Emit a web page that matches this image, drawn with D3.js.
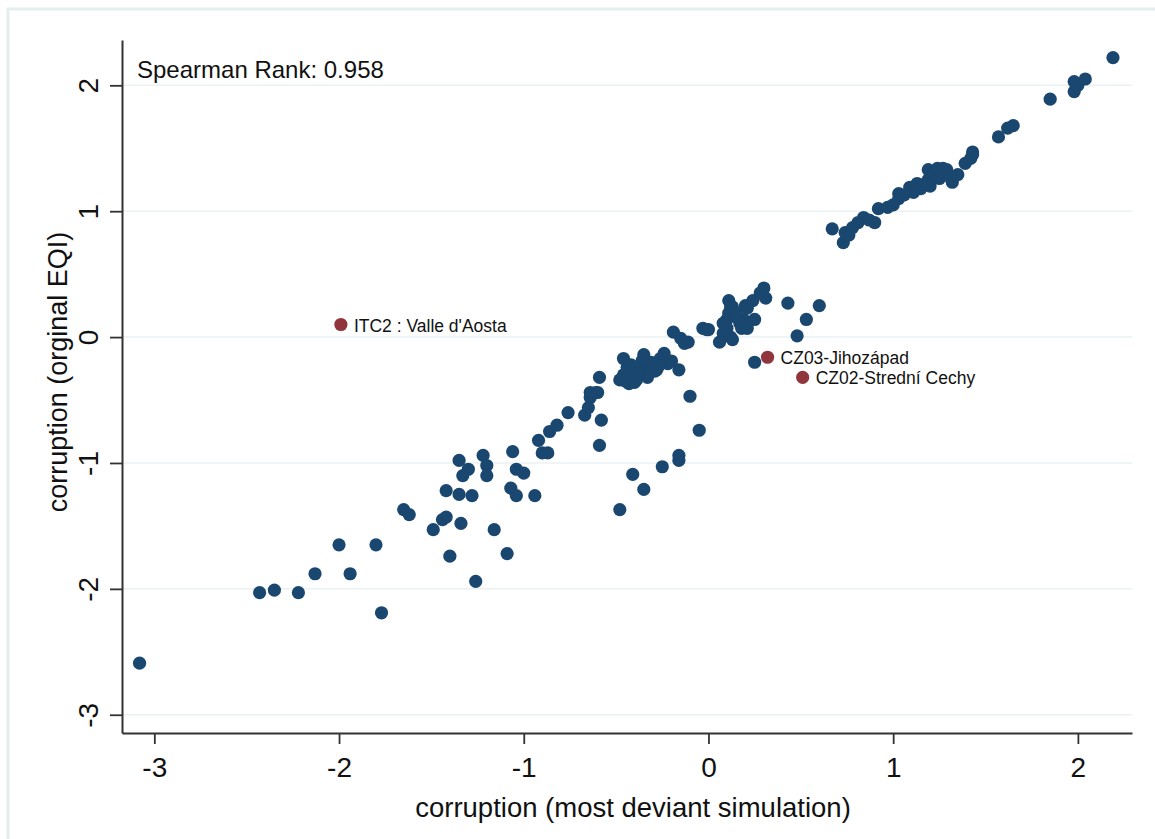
<!DOCTYPE html>
<html>
<head>
<meta charset="utf-8">
<script src="https://cdn.jsdelivr.net/npm/d3@7"></script>
<style>
  body { margin: 0; background: #fff; }
  svg { display: block; font-family: "Liberation Sans", Arial, sans-serif; }
</style>
</head>
<body>
<div id="chart"></div>
<script>
// simulated (x) vs original EQI (y) corruption scores
const regions = [
  [-3.08,-2.59],[-2.43,-2.03],[-2.35,-2.01],[-2.22,-2.03],[-2.13,-1.88],[-2.00,-1.65],
  [-1.94,-1.88],[-1.80,-1.65],[-1.77,-2.19],[-1.65,-1.37],[-1.62,-1.41],[-1.49,-1.53],
  [-1.44,-1.45],[-1.42,-1.43],[-1.40,-1.74],[-1.42,-1.22],[-1.35,-1.25],[-1.28,-1.26],
  [-1.34,-1.48],[-1.26,-1.94],[-1.35,-0.98],[-1.30,-1.05],[-1.33,-1.10],[-1.22,-0.94],
  [-1.20,-1.02],[-1.20,-1.10],[-1.16,-1.53],[-1.09,-1.72],[-1.06,-0.91],[-1.04,-1.05],
  [-1.00,-1.08],[-1.07,-1.20],[-1.04,-1.26],[-0.94,-1.26],[-0.92,-0.82],[-0.90,-0.92],
  [-0.87,-0.92],[-0.86,-0.75],[-0.82,-0.70],[-0.76,-0.60],[-0.67,-0.62],[-0.65,-0.56],
  [-0.64,-0.48],[-0.61,-0.44],[-0.59,-0.32],[-0.58,-0.66],[-0.59,-0.86],[-0.48,-1.37],
  [-0.41,-1.09],[-0.35,-1.21],[-0.25,-1.03],[-0.16,-0.98],[-0.16,-0.94],[-0.10,-0.47],
  [-0.05,-0.74],[-0.64,-0.44],[-0.60,-0.44],
  [-0.46,-0.17],[-0.48,-0.34],[-0.44,-0.24],[-0.43,-0.37],[-0.35,-0.14],[-0.33,-0.24],
  [-0.26,-0.17],[-0.24,-0.13],[-0.22,-0.21],[-0.28,-0.26],[-0.39,-0.34],[-0.33,-0.32],
  [-0.41,-0.30],[-0.16,-0.26],[-0.46,-0.30],[-0.42,-0.22],[-0.38,-0.28],[-0.31,-0.20],
  [-0.29,-0.27],[-0.36,-0.19],[-0.45,-0.35],[-0.40,-0.36],[-0.27,-0.23],[-0.20,-0.19],
  [-0.19,0.04],[-0.15,-0.01],[-0.11,-0.04],[-0.13,-0.05],[-0.03,0.07],[-0.01,0.06],[0.00,0.06],
  [0.08,0.03],[0.06,-0.04],[0.12,0.00],[0.10,0.07],[0.13,-0.02],[0.10,0.14],[0.15,0.19],
  [0.20,0.25],[0.12,0.24],[0.24,0.29],[0.21,0.07],[0.19,0.14],[0.25,-0.20],[0.11,0.29],
  [0.11,0.19],[0.15,0.16],[0.17,0.11],[0.21,0.23],[0.28,0.35],[0.30,0.39],[0.31,0.31],
  [0.25,0.14],[0.18,0.07],[0.08,0.11],[0.13,0.24],[0.43,0.27],[0.60,0.25],[0.53,0.14],
  [0.48,0.01],
  [0.67,0.86],[0.74,0.83],[0.73,0.75],[0.76,0.81],[0.78,0.87],[0.84,0.95],[0.90,0.91],
  [0.92,1.02],[0.97,1.03],[1.03,1.14],[1.03,1.10],[1.09,1.19],[1.11,1.15],[1.13,1.22],
  [1.15,1.18],[1.19,1.33],[1.19,1.25],[1.22,1.30],[1.24,1.34],[1.25,1.26],[1.27,1.34],
  [1.29,1.33],[1.31,1.27],[1.32,1.23],[1.35,1.29],[1.39,1.38],[1.42,1.42],[1.43,1.47],
  [1.43,1.45],[1.57,1.59],[1.62,1.66],[1.65,1.68],[1.85,1.89],[1.98,2.03],[1.98,1.95],
  [2.04,2.05],[2.19,2.22],[1.20,1.20],[1.16,1.21],[1.06,1.13],[1.00,1.05],[0.81,0.91],
  [0.87,0.93],[1.27,1.29],[2.00,2.00]
];

// outliers that get a name
const outliers = [
  { x: -1.99, y: 0.10, label: "ITC2 : Valle d'Aosta" },
  { x: 0.32, y: -0.16, label: "CZ03-Jihozápad" },
  { x: 0.51, y: -0.32, label: "CZ02-Strední Cechy" }
];

const xTicks = [-3, -2, -1, 0, 1, 2];
const yTicks = [-3, -2, -1, 0, 1, 2];
const note = "Spearman Rank: 0.958";

const W = 1155, H = 839;
const svg = d3.select("#chart").append("svg").attr("width", W).attr("height", H);

// graph region frame
svg.append("rect")
  .attr("x", 8).attr("y", 9).attr("width", W + 20).attr("height", H + 20)
  .attr("fill", "#fff").attr("stroke", "#e4edf0").attr("stroke-width", 3);

const x = d3.scaleLinear().domain([-3.175, 2.293]).range([122, 1132]);
const y = d3.scaleLinear().domain([-3.145, 2.36]).range([733, 40]);

// horizontal grid
svg.append("g").selectAll("line").data(yTicks).enter().append("line")
  .attr("x1", 122).attr("x2", 1132)
  .attr("y1", d => y(d)).attr("y2", d => y(d))
  .attr("stroke", "#eaf2f3").attr("stroke-width", 1.5);

const plain = d => String(d);  // hyphen minus like the original
const xAxis = svg.append("g").attr("transform", "translate(0,733)")
  .call(d3.axisBottom(x).tickValues(xTicks).tickSize(11).tickSizeOuter(0).tickPadding(13)
    .tickFormat(plain));
const yAxis = svg.append("g").attr("transform", "translate(122,0)")
  .call(d3.axisLeft(y).tickValues(yTicks).tickSize(12).tickSizeOuter(0)
    .tickFormat(plain));

[xAxis, yAxis].forEach(g => {
  g.select(".domain").attr("stroke", "#333").attr("stroke-width", 2);
  g.selectAll(".tick line").attr("stroke", "#333").attr("stroke-width", 1.8);
  g.selectAll("text").attr("fill", "#111").style("font-size", "28px")
    .style("font-family", "'Liberation Sans', Arial, sans-serif");
});
yAxis.selectAll(".tick text")
  .attr("x", null).attr("dy", null)
  .attr("text-anchor", "middle")
  .attr("transform", "translate(-24,0) rotate(-90)");

// axis titles
svg.append("text").attr("x", 633).attr("y", 817).attr("text-anchor", "middle")
  .style("font-size", "27.5px").attr("fill", "#111")
  .text("corruption (most deviant simulation)");
svg.append("text").attr("transform", "translate(67,372) rotate(-90)")
  .attr("text-anchor", "middle").style("font-size", "27px").attr("fill", "#111")
  .text("corruption (orginal EQI)");

svg.append("text").attr("x", 137).attr("y", 78)
  .style("font-size", "24px").attr("fill", "#111").text(note);

// points
svg.append("g").selectAll("circle").data(regions).enter().append("circle")
  .attr("cx", d => x(d[0])).attr("cy", d => y(d[1])).attr("r", 6.6)
  .attr("fill", "#1a476f");

const out = svg.append("g").selectAll("g").data(outliers).enter().append("g");
out.append("circle")
  .attr("cx", d => x(d.x)).attr("cy", d => y(d.y)).attr("r", 6.6)
  .attr("fill", "#90353b");
out.append("text")
  .attr("x", d => x(d.x) + 13).attr("y", d => y(d.y) + 7)
  .style("font-size", "17.5px").attr("fill", "#111")
  .text(d => d.label);
</script>
</body>
</html>
